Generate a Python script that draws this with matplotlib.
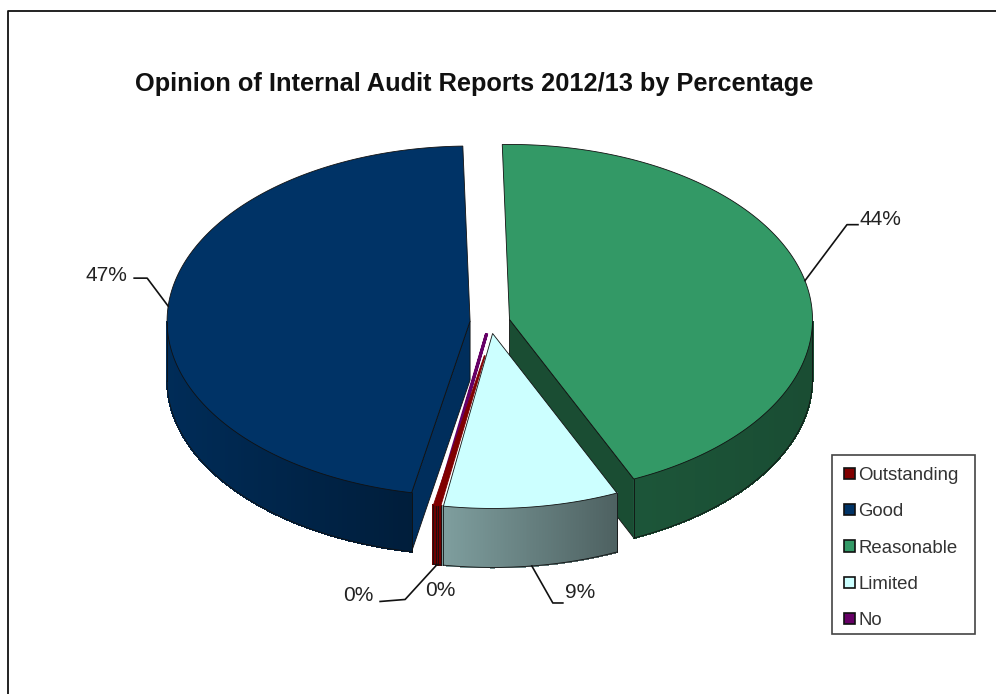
import numpy as np
import matplotlib
matplotlib.use("Agg")
import matplotlib.pyplot as plt
from matplotlib.collections import PolyCollection
from matplotlib.patches import Patch, Polygon, Rectangle

plt.rcParams["font.family"] = ["Liberation Sans", "DejaVu Sans"]

# Report counts as percentages; the two 0% categories are small non-zero slivers
categories = ["Outstanding", "Good", "Reasonable", "Limited", "No"]
values = [0.4, 46.9, 44, 9.4, 0.1]
title = "Opinion of Internal Audit Reports 2012/13 by Percentage"

top_colors = ["#800000", "#003366", "#339966", "#CCFFFF", "#660066"]
# side brightness at the left and right end of each slice's rim
side_shade = [(0.85, 0.85), (0.86, 0.58), (0.56, 0.50), (0.62, 0.38), (0.7, 0.7)]
draw_order = [1, 2, 4, 0, 3]

# pie geometry, in pixels
cx, cy = 490, 322
rx, ry = 303, 175
depth = 59
explode = 0.066
start = 189.7
# sideways nudge of the red sliver so it sits against the pale slice
nudge = {0: 5.5}

# leader elbow and label position relative to the rim point, per slice
leaders = {
    1: [(-21, -28), (-34, -28)],
    2: [(42, -56), (53, -56)],
    3: [(21, 37), (31, 37)],
    0: [(-32, 35), (-57, 37)],
}
label_pos = {1: (-62, -31), 2: (75, -61), 3: (48, 27), 0: (-79, 31), 4: (4, 26)}


def rim(t, ox, oy, radius=1.0):
    a = np.radians(t)
    return ox + radius * rx * np.sin(a), oy - radius * ry * np.cos(a)


def shaded(color, f):
    return tuple(c * f for c in matplotlib.colors.to_rgb(color))


fig = plt.figure(figsize=(9.96, 6.94), dpi=100)
ax = fig.add_axes([0, 0, 1, 1])
ax.set_xlim(0, 996)
ax.set_ylim(694, 0)
ax.axis("off")

# page border
ax.plot([7.5, 7.5, 996], [694, 10.5, 10.5], color="#111111", lw=1.3)

sweep = np.array(values) / sum(values) * 360
t_start = start + np.concatenate([[0], np.cumsum(sweep)[:-1]])
t_end = t_start + sweep
mid = (t_start + t_end) / 2
line = dict(color="#111111", lw=0.6)

for i in draw_order:
    t0, t1 = t_start[i], t_end[i]
    tm = np.radians(mid[i])
    ox = cx + explode * rx * np.sin(tm) + nudge.get(i, 0)
    oy = cy - explode * ry * np.cos(tm)
    color = top_colors[i]
    arc = np.linspace(t0, t1, 180)
    x, y = rim(arc, ox, oy)

    # flat cut faces that look toward the viewer
    for t in (t0, t1):
        px, py = rim(t, ox, oy)
        if i in (1, 2) and py > oy:
            f = 0.9 if i == 1 else 0.5
            ax.add_patch(Polygon([(ox, oy), (px, py), (px, py + depth), (ox, oy + depth)],
                                 facecolor=shaded(color, f), edgecolor="#111111", lw=0.6))

    # curved side wall, built from small facets on the front half of the rim
    t_norm = np.mod(arc, 360)
    front = (t_norm > 90) & (t_norm < 270)
    if front.any():
        fx, fy = x[front], y[front]
        quads = [[(fx[k], fy[k]), (fx[k + 1], fy[k + 1]),
                  (fx[k + 1], fy[k + 1] + depth), (fx[k], fy[k] + depth)]
                 for k in range(len(fx) - 1)]
        span = max(fx.max() - fx.min(), 1)
        left, right = side_shade[i]
        shades = [shaded(color, left + (right - left) * (q[0][0] - fx.min()) / span) for q in quads]
        ax.add_collection(PolyCollection(quads, facecolors=shades, edgecolors=shades,
                                         linewidths=0.8, antialiaseds=False))
        ax.plot(fx, fy + depth, **line)
        ax.plot([fx[0], fx[0]], [fy[0], fy[0] + depth], **line)
        ax.plot([fx[-1], fx[-1]], [fy[-1], fy[-1] + depth], **line)

    # top face; the red sliver starts a little way out so the purple one shows by the apex
    if i == 0:
        inner = np.array(rim(np.array([t0, t1]), ox, oy, 0.13))
        pts = np.vstack([np.column_stack([x, y]), inner.T[::-1]])
        ax.add_patch(Polygon(pts, facecolor=color, edgecolor=color, lw=0.6))
    elif i == 4:
        pts = np.vstack([[ox, oy], np.column_stack([x, y])])
        ax.add_patch(Polygon(pts, facecolor=color, edgecolor=color, lw=2.2))
    else:
        pts = np.vstack([[ox, oy], np.column_stack([x, y])])
        ax.add_patch(Polygon(pts, facecolor=color, edgecolor="#111111", lw=0.6))

    # percentage label and leader
    a = mid[i]
    px, py = rim(a, ox, oy)
    if np.mod(a, 360) > 90 and np.mod(a, 360) < 270:
        py += depth
    for_label = label_pos[i]
    if i in leaders:
        pts = [(px, py)] + [(px + dx, py + dy) for dx, dy in leaders[i]]
        ax.plot(*zip(*pts), color="#111111", lw=1.2)
    ax.text(px + for_label[0], py + for_label[1], f"{values[i]:.0f}%", fontsize=15,
            color="#222222", ha="center", va="center")

ax.text(474, 84, title, fontsize=18.3, fontweight="bold", color="#111111", ha="center", va="center")

# legend box drawn separately so its size can be set directly
ax.add_patch(Rectangle((832, 455), 143, 179, facecolor="white", edgecolor="#444444", lw=1.2, zorder=4))
handles = [Patch(facecolor=c, edgecolor="#111111", lw=1.2) for c in top_colors]
leg = ax.legend(handles, categories, loc="upper left", bbox_to_anchor=(832 / 996, 1 - 455 / 694),
                bbox_transform=fig.transFigure, fontsize=13.4, frameon=False,
                handlelength=0.55, handleheight=0.55,
                handletextpad=0.2, labelspacing=1.03, borderpad=0.66, borderaxespad=0,
                labelcolor="#333333")
leg.set_zorder(5)

fig.savefig("out.png", dpi=100)
